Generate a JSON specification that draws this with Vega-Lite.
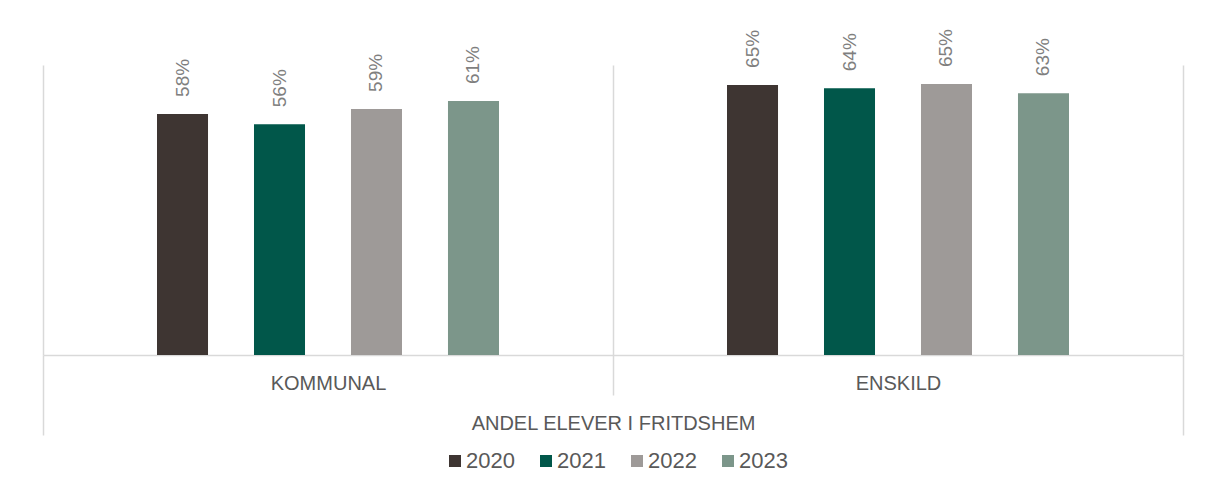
{
  "$schema": "https://vega.github.io/schema/vega-lite/v6.json",
  "width": 1140,
  "height": 290,
  "autosize": {"type": "none"},
  "padding": {"left": 43, "top": 65, "right": 33, "bottom": 122},
  "background": "white",
  "config": {"font": "Liberation Sans", "view": {"stroke": null}},
  "data": {
    "values": [
      {"sektor": "KOMMUNAL", "year": "2020", "value": 0.582},
      {"sektor": "KOMMUNAL", "year": "2021", "value": 0.557},
      {"sektor": "KOMMUNAL", "year": "2022", "value": 0.594},
      {"sektor": "KOMMUNAL", "year": "2023", "value": 0.613},
      {"sektor": "ENSKILD", "year": "2020", "value": 0.652},
      {"sektor": "ENSKILD", "year": "2021", "value": 0.644},
      {"sektor": "ENSKILD", "year": "2022", "value": 0.654},
      {"sektor": "ENSKILD", "year": "2023", "value": 0.632}
    ]
  },
  "encoding": {
    "x": {
      "field": "sektor",
      "type": "nominal",
      "sort": null,
      "scale": {"paddingInner": 0, "paddingOuter": 0},
      "axis": {
        "title": "ANDEL ELEVER I FRITDSHEM",
        "domainColor": "#D9D9D9",
        "domainWidth": 1.5,
        "grid": true,
        "gridColor": "#D9D9D9",
        "gridWidth": 1.5,
        "tickBand": "extent",
        "ticks": true,
        "tickColor": "#D9D9D9",
        "tickWidth": 1.5,
        "tickSize": {"condition": {"test": "datum.value === 'KOMMUNAL'", "value": 40}, "value": 80},
        "labelFont": "Liberation Sans",
        "labelFontSize": 20,
        "labelColor": "#595959",
        "labelAngle": 0,
        "labelBaseline": "alphabetic",
        "labelPadding": {"condition": {"test": "datum.value === 'KOMMUNAL'", "value": -6}, "value": -46},
        "titleFont": "Liberation Sans",
        "titleFontSize": 20,
        "titleFontWeight": "normal",
        "titleColor": "#595959",
        "titleBaseline": "alphabetic",
        "titleX": 570,
        "titleY": 74
      }
    },
    "xOffset": {
      "field": "year",
      "type": "nominal",
      "sort": ["2020", "2021", "2022", "2023"],
      "scale": {"range": [114, 456], "paddingInner": 0.474, "paddingOuter": 0}
    },
    "y": {
      "field": "value",
      "type": "quantitative",
      "scale": {"domain": [0, 0.7], "nice": false, "zero": true},
      "axis": null
    }
  },
  "layer": [
    {
      "mark": {"type": "bar"},
      "encoding": {
        "color": {
          "field": "year",
          "type": "nominal",
          "sort": ["2020", "2021", "2022", "2023"],
          "scale": {"domain": ["2020", "2021", "2022", "2023"], "range": ["#3E3532", "#01574A", "#9E9A98", "#7C968A"]},
          "legend": {
            "title": null,
            "orient": "none",
            "legendX": 401,
            "legendY": 385,
            "direction": "horizontal",
            "symbolType": "square",
            "symbolSize": 144,
            "symbolStrokeWidth": 0,
            "symbolOpacity": 1,
            "labelFont": "Liberation Sans",
            "labelFontSize": 22,
            "labelColor": "#595959",
            "labelOffset": 0,
            "columnPadding": 20
          }
        }
      }
    },
    {
      "mark": {
        "type": "text",
        "angle": 270,
        "align": "left",
        "baseline": "middle",
        "dx": 17,
        "font": "Liberation Sans",
        "fontSize": 19,
        "fill": "#7F7F7F"
      },
      "encoding": {
        "text": {"field": "value", "type": "quantitative", "format": ".0%"}
      }
    }
  ]
}
